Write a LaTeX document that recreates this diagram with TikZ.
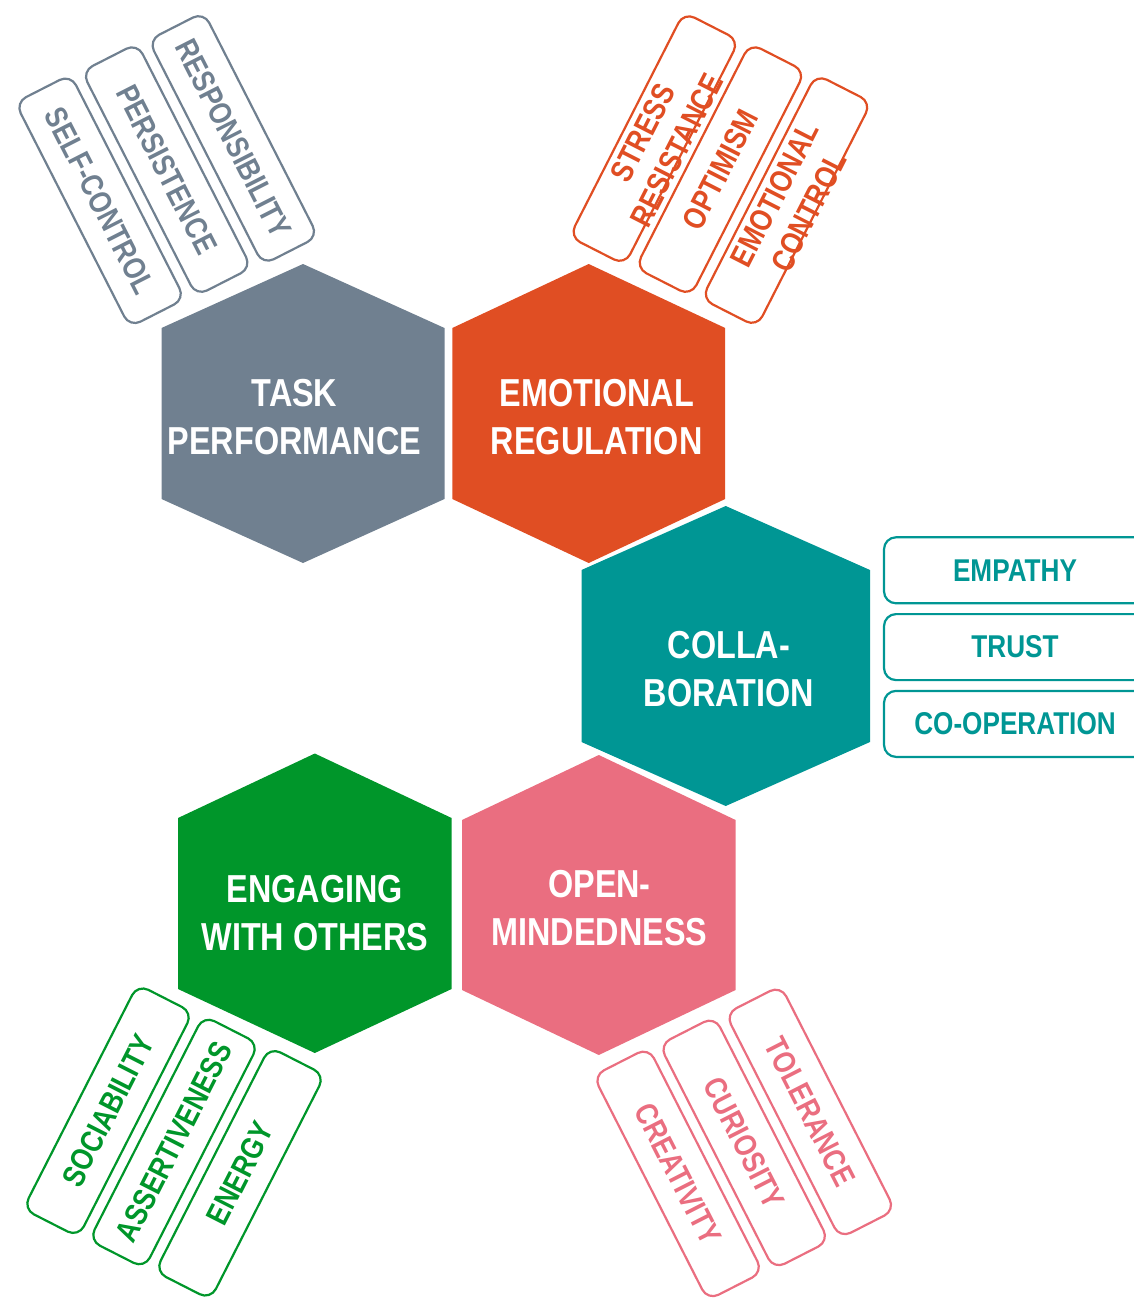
\documentclass[tikz,border=0pt]{standalone}
\usepackage{fontspec}
\newfontfamily\narrowsans[FakeStretch=0.83]{Liberation Sans}
\usepackage{tikz}
\usetikzlibrary{calc}
\definecolor{taskgrey}{HTML}{708090}
\definecolor{emoorange}{HTML}{E04E23}
\definecolor{colteal}{HTML}{009694}
\definecolor{openpink}{HTML}{EA6E80}
\definecolor{enggreen}{HTML}{00962A}
\tikzset{hex/.style={fill=#1, draw=none},
hextext/.style={text=white, align=center, inner sep=0pt, font=\narrowsans\bfseries\fontsize{39}{48}\selectfont},
%outlined trait boxes, the colour is the argument
tag/.style={draw=#1, text=#1, line width=2.2pt, rounded corners=12pt, minimum width=252pt, minimum height=62pt, inner sep=0pt, align=center, font=\narrowsans\bfseries\fontsize{31.5}{38}\selectfont},
tagtext/.style={text=#1, inner sep=0pt, align=center, font=\narrowsans\bfseries\fontsize{31.5}{38}\selectfont}}

\begin{document}
\begin{tikzpicture}[x=1pt,y=-1pt]
\useasboundingbox (0,0) rectangle (1133,1303);

% hexagons
\fill[hex=taskgrey] (303,264) -- (444.5,328) -- (444.5,499) -- (303,563) -- (161.5,499) -- (161.5,328) -- cycle;
\fill[hex=emoorange] (588.7,264) -- (725.2,328) -- (725.2,499) -- (588.7,563) -- (452.3,499) -- (452.3,328) -- cycle;
\fill[hex=colteal] (725.7,506) -- (870,570) -- (870,742) -- (725.7,806) -- (581.5,742) -- (581.5,570) -- cycle;
\fill[hex=enggreen] (314.8,753.5) -- (451.6,818) -- (451.6,989) -- (314.8,1053) -- (178,989) -- (178,818) -- cycle;
\fill[hex=openpink] (598.8,755) -- (735.6,820) -- (735.6,990) -- (598.8,1055) -- (462,990) -- (462,820) -- cycle;

\node[hextext] (tp) at (294.5,416.7) {TASK\\PERFORMANCE};
\node[hextext] (er) at (596.7,416.7) {EMOTIONAL\\REGULATION};
\node[hextext] (col) at (728.8,669) {COLLA-\\BORATION};
\node[hextext] (eng) at (314.9,913.3) {ENGAGING\\WITH OTHERS};
\node[hextext] (open) at (599.5,908.3) {OPEN-\\MINDEDNESS};

% task performance
\foreach \name/\txt [count=\i from 0] in {self/SELF-CONTROL, pers/PERSISTENCE, resp/RESPONSIBILITY}
     \node[tag=taskgrey, rotate=-63] (\name) at ($(100.1,200.8)+\i*(66.6,-31.2)$) {\txt};

% emotional regulation
\node[tag=emoorange, rotate=63] (stress) at (654.3,138.6) {};
\node[tagtext=emoorange, rotate=63] (stresstxt) at ($(stress.center)!6pt!(stress.south)$) {STRESS\\RESISTANCE};
\node[tag=emoorange, rotate=63] (optim) at (720.4,169.6) {OPTIMISM};
\node[tag=emoorange, rotate=63] (emoctl) at (786.5,200.6) {};
\node[tagtext=emoorange, rotate=63] (emoctltxt) at ($(emoctl.center)!6pt!(emoctl.south)$) {EMOTIONAL\\CONTROL};

% collaboration
\foreach \name/\txt [count=\i from 0] in {empathy/EMPATHY, trust/TRUST, coop/CO-OPERATION}
     \node[tag=colteal, minimum width=262pt, minimum height=66pt] (\name) at ($(1015,570.3)+\i*(0,76.8)$) {\txt};

% open-mindedness
\foreach \name/\txt [count=\i from 0] in {creat/CREATIVITY, curio/CURIOSITY, toler/TOLERANCE}
     \node[tag=openpink, rotate=-63] (\name) at ($(678.1,1173.9)+\i*(66.1,-31)$) {\txt};

% engaging with others
\foreach \name/\txt [count=\i from 0] in {socia/SOCIABILITY, assert/ASSERTIVENESS, energy/ENERGY}
     \node[tag=enggreen, rotate=63] (\name) at ($(108,1110.7)+\i*(66,31.3)$) {\txt};

\end{tikzpicture}
\end{document}
